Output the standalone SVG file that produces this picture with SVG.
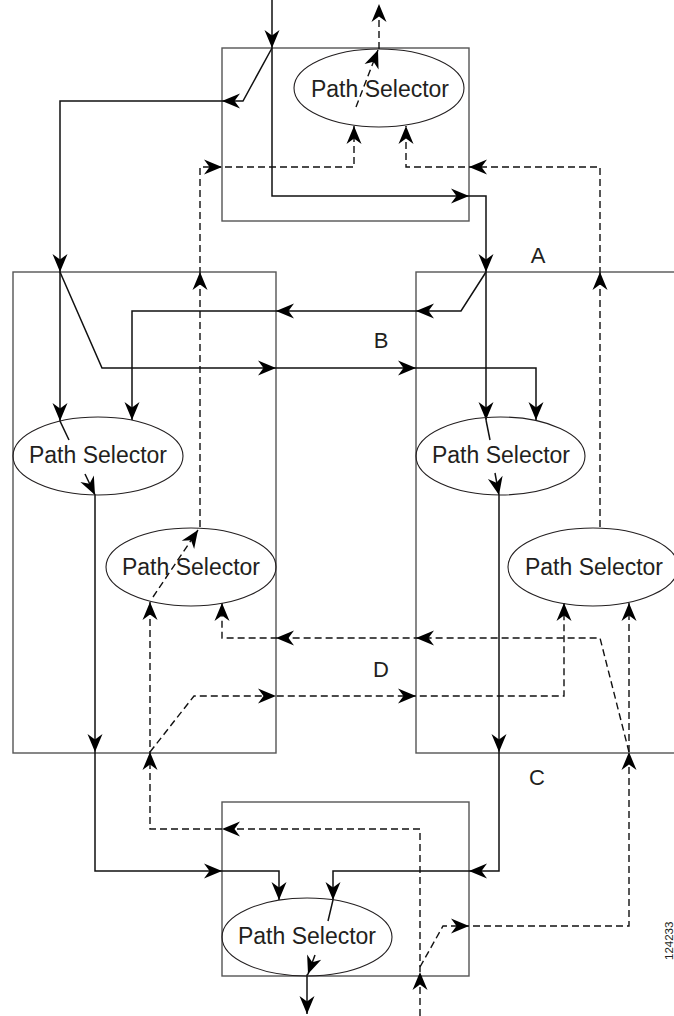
<svg xmlns="http://www.w3.org/2000/svg" xmlns:xlink="http://www.w3.org/1999/xlink" width="674" height="1016" viewBox="0 0 674 1016">
<style>
.box{fill:none;stroke:#555;stroke-width:1.4}
.ell{fill:none;stroke:#231f20;stroke-width:1.1}
.sl{fill:none;stroke:#111;stroke-width:1.5}
.dl{fill:none;stroke:#111;stroke-width:1.4;stroke-dasharray:7,4}
.lbl{font-family:"Liberation Sans",Arial,sans-serif;fill:#231f20}
.ah{fill:#000;stroke:none}
</style>
<defs>
<path id="ah" d="M0,0 L-18,-7.5 L-12.5,0 L-18,7.5 Z"/>
</defs>
<rect width="674" height="1016" fill="#fff"/>

<g id="box-top"><rect class="box" x="222" y="48" width="247" height="173"/></g>
<g id="box-left"><rect class="box" x="13" y="272" width="263" height="481"/></g>
<g id="box-right"><rect class="box" x="416" y="272" width="300" height="481"/></g>
<g id="box-bottom"><rect class="box" x="222" y="802" width="247" height="174"/></g>

<g id="connectors">
  <!-- solid -->
  <polyline class="sl" points="272,0 272,196 486,196 486,420"/>
  <polyline class="sl" points="272,48 243,101 60,101 60,421 69,440"/>
  <polyline class="sl" points="486,420 490,440"/>
  <polyline class="sl" points="486,272 461,311 132,311 132,420"/>
  <polyline class="sl" points="60,272 102,368 536,368 536,420"/>
  <polyline class="sl" points="85,474 95,495 95,871 279,871 279,900"/>
  <polyline class="sl" points="495,473 499,495 499,871 333,871 333,900 328,921"/>
  <polyline class="sl" points="315,955 308,974 307,975 307,1014"/>
  <!-- dashed -->
  <polyline class="dl" points="379,49 379,5"/>
  <polyline class="dl" points="356,107 378,50"/>
  <polyline class="dl" points="153,597 198,530"/>
  <polyline class="dl" points="200,527 200,167 354,167 354,126"/>
  <polyline class="dl" points="600,527 600,167 406,167 406,126"/>
  <polyline class="dl" points="420,1016 420,829 150,829 150,602"/>
  <polyline class="dl" points="420,967 443,926 629,926 629,603"/>
  <polyline class="dl" points="629,752 600,638 222,638 222,603"/>
  <polyline class="dl" points="150,752 194,696 564,696 564,603"/>
  <!-- arrowheads solid -->
  <use xlink:href="#ah" class="ah" transform="translate(272,48) rotate(90)"/>
  <use xlink:href="#ah" class="ah" transform="translate(222,101) rotate(180)"/>
  <use xlink:href="#ah" class="ah" transform="translate(60,272) rotate(90)"/>
  <use xlink:href="#ah" class="ah" transform="translate(60,421) rotate(90)"/>
  <use xlink:href="#ah" class="ah" transform="translate(469,196)"/>
  <use xlink:href="#ah" class="ah" transform="translate(486,272) rotate(90)"/>
  <use xlink:href="#ah" class="ah" transform="translate(486,420) rotate(90)"/>
  <use xlink:href="#ah" class="ah" transform="translate(416,311) rotate(180)"/>
  <use xlink:href="#ah" class="ah" transform="translate(276,311) rotate(180)"/>
  <use xlink:href="#ah" class="ah" transform="translate(132,420) rotate(90)"/>
  <use xlink:href="#ah" class="ah" transform="translate(276,368)"/>
  <use xlink:href="#ah" class="ah" transform="translate(416,368)"/>
  <use xlink:href="#ah" class="ah" transform="translate(536,420) rotate(90)"/>
  <use xlink:href="#ah" class="ah" transform="translate(95,495) rotate(64)"/>
  <use xlink:href="#ah" class="ah" transform="translate(95,752) rotate(90)"/>
  <use xlink:href="#ah" class="ah" transform="translate(222,871)"/>
  <use xlink:href="#ah" class="ah" transform="translate(279,900) rotate(90)"/>
  <use xlink:href="#ah" class="ah" transform="translate(499,495) rotate(78)"/>
  <use xlink:href="#ah" class="ah" transform="translate(499,752) rotate(90)"/>
  <use xlink:href="#ah" class="ah" transform="translate(469,871) rotate(180)"/>
  <use xlink:href="#ah" class="ah" transform="translate(333,900) rotate(90)"/>
  <use xlink:href="#ah" class="ah" transform="translate(308,974) rotate(110)"/>
  <use xlink:href="#ah" class="ah" transform="translate(307,1014) rotate(90)"/>
  <!-- arrowheads dashed -->
  <use xlink:href="#ah" class="ah" transform="translate(379,4) rotate(-90)"/>
  <use xlink:href="#ah" class="ah" transform="translate(378,50) rotate(-69)"/>
  <use xlink:href="#ah" class="ah" transform="translate(354,126) rotate(-90)"/>
  <use xlink:href="#ah" class="ah" transform="translate(406,126) rotate(-90)"/>
  <use xlink:href="#ah" class="ah" transform="translate(222,167)"/>
  <use xlink:href="#ah" class="ah" transform="translate(469,167) rotate(180)"/>
  <use xlink:href="#ah" class="ah" transform="translate(200,272) rotate(-90)"/>
  <use xlink:href="#ah" class="ah" transform="translate(600,272) rotate(-90)"/>
  <use xlink:href="#ah" class="ah" transform="translate(198,530) rotate(-56)"/>
  <use xlink:href="#ah" class="ah" transform="translate(150,602) rotate(-90)"/>
  <use xlink:href="#ah" class="ah" transform="translate(222,603) rotate(-90)"/>
  <use xlink:href="#ah" class="ah" transform="translate(564,603) rotate(-90)"/>
  <use xlink:href="#ah" class="ah" transform="translate(629,603) rotate(-90)"/>
  <use xlink:href="#ah" class="ah" transform="translate(416,638) rotate(180)"/>
  <use xlink:href="#ah" class="ah" transform="translate(276,638) rotate(180)"/>
  <use xlink:href="#ah" class="ah" transform="translate(276,696)"/>
  <use xlink:href="#ah" class="ah" transform="translate(416,696)"/>
  <use xlink:href="#ah" class="ah" transform="translate(150,752) rotate(-90)"/>
  <use xlink:href="#ah" class="ah" transform="translate(629,752) rotate(-90)"/>
  <use xlink:href="#ah" class="ah" transform="translate(222,829) rotate(180)"/>
  <use xlink:href="#ah" class="ah" transform="translate(469,926)"/>
  <use xlink:href="#ah" class="ah" transform="translate(420,972) rotate(-90)"/>
</g>

<g id="ps-top"><ellipse class="ell" cx="379" cy="88" rx="85" ry="39"/><text class="lbl" x="380" y="97" font-size="23" text-anchor="middle">Path Selector</text></g>
<g id="ps-left"><ellipse class="ell" cx="98" cy="456" rx="85" ry="39"/><text class="lbl" x="98" y="463" font-size="23" text-anchor="middle">Path Selector</text></g>
<g id="ps-right"><ellipse class="ell" cx="500.5" cy="456" rx="84.5" ry="39"/><text class="lbl" x="501" y="463" font-size="23" text-anchor="middle">Path Selector</text></g>
<g id="ps-midleft"><ellipse class="ell" cx="191" cy="567" rx="85" ry="39"/><text class="lbl" x="191" y="575" font-size="23" text-anchor="middle">Path Selector</text></g>
<g id="ps-midright"><ellipse class="ell" cx="593" cy="567" rx="85" ry="39"/><text class="lbl" x="594" y="575" font-size="23" text-anchor="middle">Path Selector</text></g>
<g id="ps-bottom"><ellipse class="ell" cx="307" cy="937" rx="85" ry="39"/><text class="lbl" x="307" y="944" font-size="23" text-anchor="middle">Path Selector</text></g>

<g id="labels">
<text class="lbl" x="538" y="263" font-size="22" text-anchor="middle">A</text>
<text class="lbl" x="381" y="348" font-size="22" text-anchor="middle">B</text>
<text class="lbl" x="537" y="785" font-size="22" text-anchor="middle">C</text>
<text class="lbl" x="381" y="677" font-size="22" text-anchor="middle">D</text>
<text class="lbl" font-size="11.5" transform="translate(673,960) rotate(-90)">124233</text>
</g>
</svg>
